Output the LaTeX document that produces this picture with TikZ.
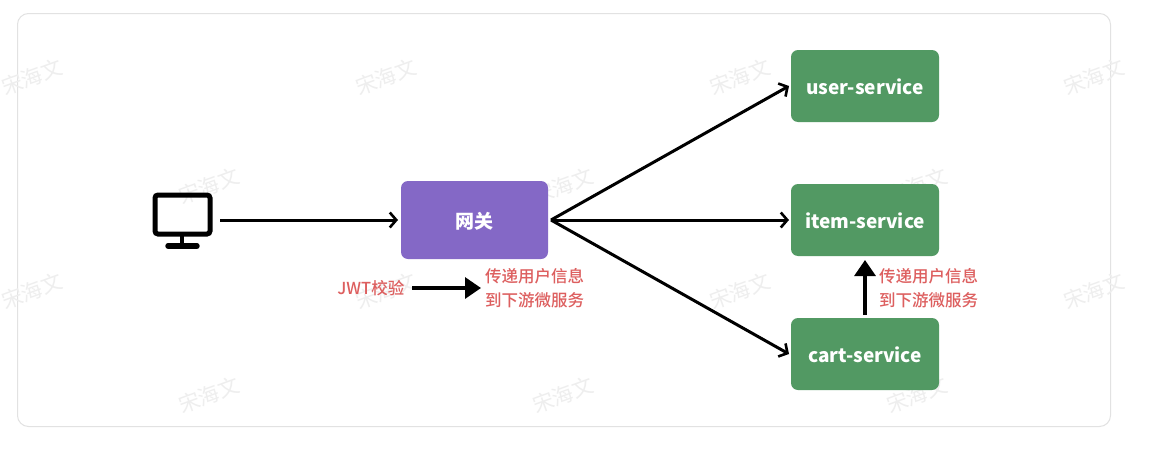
\documentclass[tikz,border=0pt]{standalone}
\usepackage{fontspec}
\setmainfont{Noto Sans CJK SC}
\newfontfamily\notefont{Noto Sans CJK SC Medium}
\usetikzlibrary{arrows.meta}
\definecolor{gwfill}{HTML}{8468C6}
\definecolor{svcfill}{HTML}{529963}
\definecolor{notered}{HTML}{DD5F5F}
\definecolor{markgray}{HTML}{EEEEEE}
\definecolor{framegray}{HTML}{E2E2E2}
\tikzset{
  svc/.style={draw=none,fill=svcfill,rounded corners=7pt,minimum width=148pt,minimum height=72pt,inner sep=0pt,text=white,text height=18pt,text depth=2pt,font=\fontsize{19}{22}\selectfont\bfseries},
  gw/.style={draw=none,fill=gwfill,rounded corners=7pt,minimum width=147pt,minimum height=78pt,inner sep=0pt,text=white,text height=19pt,text depth=2pt,font=\fontsize{19}{22}\selectfont\bfseries},
  conn/.style={draw=black,line width=3pt,-{Straight Barb[length=6.5pt,width=15pt,line width=2.6pt]}},
  solidconn/.style={draw=black,line width=3.2pt,-{Triangle[length=16pt,width=21pt]}},
  note/.style={text=notered,inner sep=0pt,font=\notefont\fontsize{16.5}{24}\selectfont,align=left},
  wmark/.style={text=markgray,rotate=20,inner sep=0pt,font=\fontsize{21}{24}\selectfont},
  icon/.style={draw=black,line width=5pt,rounded corners=3pt,minimum width=55pt,minimum height=39pt,inner sep=0pt}
}
\begin{document}
\begin{tikzpicture}[x=1pt,y=-1pt]
\useasboundingbox (0,0) rectangle (1156,450);
\fill[white] (0,0) rectangle (1156,450);
\draw[framegray,line width=1pt,rounded corners=11pt] (17.5,13.5) rectangle (1110.5,426.5);
\foreach \x/\y [count=\i] in {32/77,386/77,740/77,1094/77,209/186,563/186,917/186,32/291,386/291,740/291,1094/291,209/395,563/395,917/395}
  \node[wmark] (wm\i) at (\x,\y) {宋海文};
\node[icon] (screen) at (182.5,214.5) {};
\coordinate (standtop) at (182,236);
\coordinate (standbase) at (182,245);
\coordinate (baseleft) at (168,246);
\coordinate (baseright) at (197,246);
\draw[black,line width=4.4pt] (standtop) -- (standbase);
\draw[black,line width=5.4pt,line cap=round] (baseleft) -- (baseright);
\node[gw] (gateway) at (474.5,220) {网关};
\node[svc] (user) at (865,86) {user-service};
\node[svc] (item) at (865,220) {item-service};
\node[svc] (cart) at (865,354) {cart-service};
\coordinate (gwout) at (551,220);
\coordinate (clientout) at (220,220);
\coordinate (gwin) at (398,220);
\coordinate (userin) at (789,86);
\coordinate (itemin) at (789,220);
\coordinate (cartin) at (789,354);
\draw[conn] (clientout) -- (gwin);
\draw[conn] (gwout) -- (userin);
\draw[conn] (gwout) -- (itemin);
\draw[conn] (gwout) -- (cartin);
\node[note,anchor=east] (jwt) at (404.5,288) {JWT校验};
\node[note,anchor=west] (pass1) at (485,288.5) {传递用户信息\\到下游微服务};
\node[note,anchor=west] (pass2) at (879,288.5) {传递用户信息\\到下游微服务};
\coordinate (jwtout) at (412,288);
\coordinate (passin) at (481,288);
\coordinate (cartup) at (865,315);
\coordinate (itemdown) at (865,260);
\draw[solidconn] (jwtout) -- (passin);
\draw[solidconn] (cartup) -- (itemdown);
\end{tikzpicture}
\end{document}
